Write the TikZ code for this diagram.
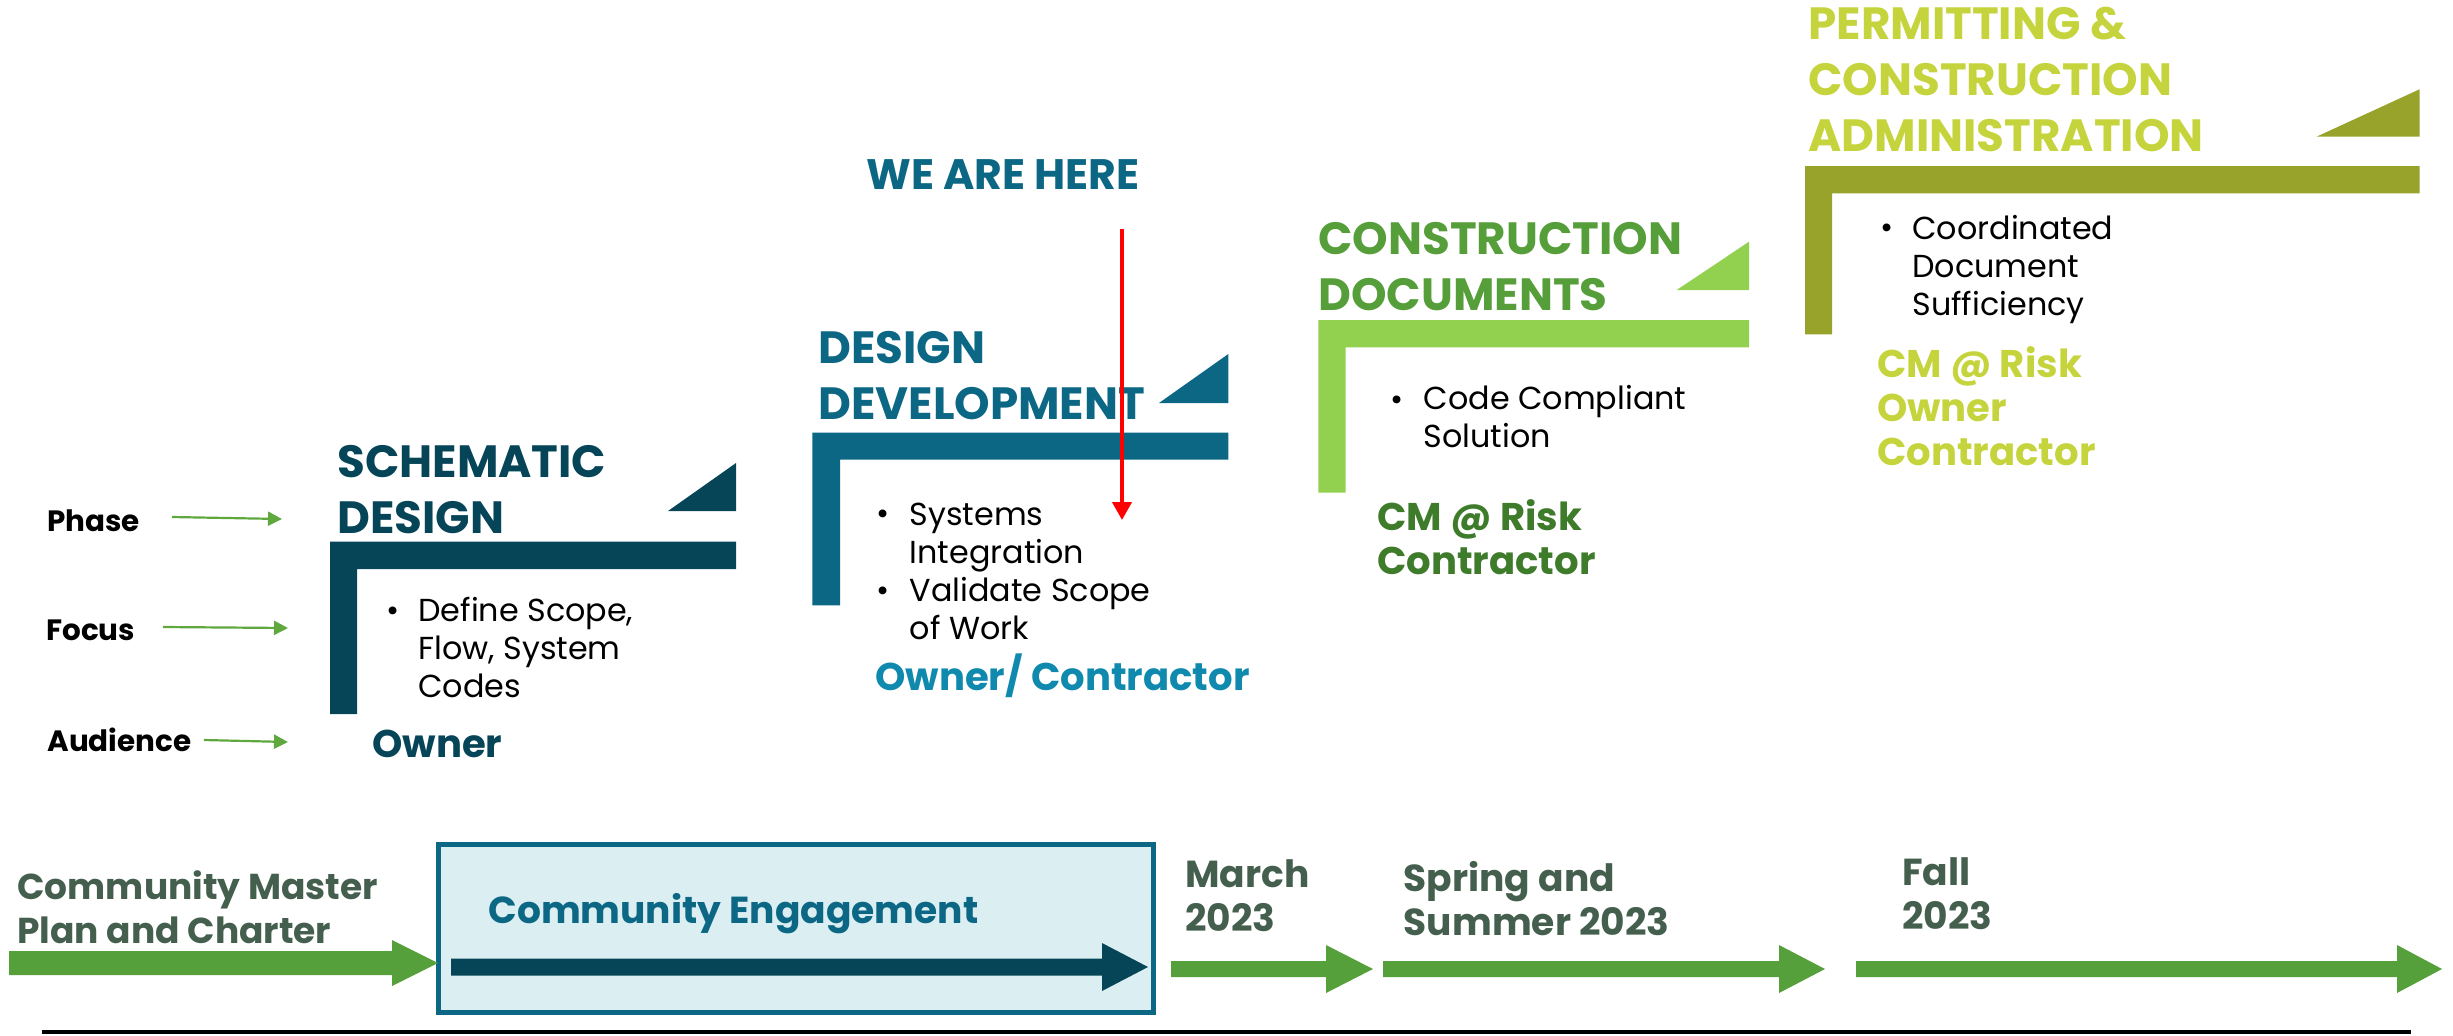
\documentclass[tikz,border=0pt]{standalone}
\usepackage{fontspec}
\setmainfont{Poppins}
\usetikzlibrary{arrows.meta}

\definecolor{sdTeal}{HTML}{064457}
\definecolor{ddTeal}{HTML}{0B6784}
\definecolor{ddLight}{HTML}{0F89AD}
\definecolor{cdGreen}{HTML}{559E3A}
\definecolor{cdBar}{HTML}{92D050}
\definecolor{cdDark}{HTML}{3E7B2A}
\definecolor{pcYellow}{HTML}{C5D43D}
\definecolor{pcOlive}{HTML}{98A32B}
\definecolor{tlGray}{HTML}{455F4E}
\definecolor{tlGreen}{HTML}{55A03A}
\definecolor{ceFill}{HTML}{DBEFF3}
\definecolor{ptrGreen}{HTML}{5EA83E}

% multi-line nodes: base = baseline of the last line
\tikzset{
  phasettl/.style={anchor=base west, inner sep=0pt, align=left, font=\fontsize{22.6}{28}\selectfont\bfseries},
  focustxt/.style={anchor=base west, inner sep=0pt, align=left, font=\fontsize{15.9}{18.9}\selectfont},
  audtxt/.style={anchor=base west, inner sep=0pt, align=left, font=\fontsize{19.3}{22}\selectfont\bfseries},
  rowlbl/.style={anchor=base west, inner sep=0pt, font=\fontsize{14.7}{16}\selectfont\bfseries},
  datelbl/.style={anchor=base west, inner sep=0pt, align=left, text=tlGray, font=\fontsize{18.8}{22}\selectfont\bfseries},
  rowptr/.style={draw=ptrGreen, line width=1.1pt, -{Triangle[length=7pt,width=7pt]}},
}

\begin{document}
\begin{tikzpicture}[x=0.5pt,y=-0.5pt]
\useasboundingbox (0,0) rectangle (2453,1035);
%row labels on the left
\node[rowlbl] (phase) at (47,531.7) {Phase};
\node[rowlbl] (focus) at (46,640) {Focus};
\node[rowlbl] (audience) at (47,751.7) {Audience};
\coordinate (phaseA) at (172,517);   \coordinate (phaseB) at (282,519);
\coordinate (focusA) at (163,627);   \coordinate (focusB) at (288,628);
\coordinate (audA) at (204,740);     \coordinate (audB) at (288,742);
\draw[rowptr] (phaseA) -- (phaseB);
\draw[rowptr] (focusA) -- (focusB);
\draw[rowptr] (audA) -- (audB);

%Schematic design
\fill[sdTeal] (330,541.7) -- (736,541.7) -- (736,569) -- (357,569) -- (357,714) -- (330,714) -- cycle;
\fill[sdTeal] (668,511) -- (736,463) -- (736,511) -- cycle;
% Text Node
\node[phasettl, text=sdTeal] (sdTitle) at (337,533.3) {SCHEMATIC\\DESIGN};
\node[focustxt] (sdDot) at (386,621.7) {\textbullet};
\node[focustxt] (sdFocus) at (418,697) {Define Scope,\\Flow, System\\Codes};
\node[audtxt, text=sdTeal] (sdAud) at (372,757) {Owner};

%Design development
\fill[ddTeal] (812.3,432.6) -- (1228.3,432.6) -- (1228.3,459.6) -- (840,459.6) -- (840,605.4) -- (812.3,605.4) -- cycle;
\fill[ddTeal] (1159,403) -- (1228.3,354) -- (1228.3,403) -- cycle;
% Text Node
\node[phasettl, text=ddTeal] (ddTitle) at (818,419) {DESIGN\\DEVELOPMENT};
\node[phasettl, text=ddTeal, font=\fontsize{21.3}{24}\selectfont\bfseries] (here) at (866,189.5) {WE ARE HERE};
\node[focustxt] (ddDotA) at (876,524.4) {\textbullet};
\node[focustxt] (ddFocusA) at (909.3,563) {Systems\\Integration};
\node[focustxt] (ddDotB) at (876,601) {\textbullet};
\node[focustxt] (ddFocusB) at (909.3,639) {Validate Scope\\of Work};
\node[audtxt, text=ddLight] (ddAud) at (875,690.5) {Owner/ Contractor};
%red marker
\coordinate (hereTop) at (1122,229);
\coordinate (hereTip) at (1122,520);
\draw[red, line width=2pt, -{Triangle[length=9pt,width=9.5pt]}] (hereTop) -- (hereTip);

%Construction documents
\fill[cdBar] (1318.3,320) -- (1749,320) -- (1749,347.3) -- (1345.7,347.3) -- (1345.7,492.7) -- (1318.3,492.7) -- cycle;
\fill[cdBar] (1676.7,290) -- (1749,241.7) -- (1749,290) -- cycle;
% Text Node
\node[phasettl, text=cdGreen] (cdTitle) at (1318,310) {CONSTRUCTION\\DOCUMENTS};
\node[focustxt] (cdDot) at (1390,410) {\textbullet};
\node[focustxt] (cdFocus) at (1423.3,447.7) {Code Compliant\\Solution};
\node[audtxt, text=cdDark] (cdAud) at (1376.7,574.3) {CM @ Risk\\Contractor};

%Permitting and construction administration
\fill[pcOlive] (1805,166) -- (2419.5,166) -- (2419.5,193.3) -- (1832,193.3) -- (1832,334.3) -- (1805,334.3) -- cycle;
\fill[pcOlive] (2316.5,136.7) -- (2419.5,89.3) -- (2419.5,136.7) -- cycle;
% Text Node
\node[phasettl, text=pcYellow] (pcTitle) at (1808,151.7) {PERMITTING \&\\CONSTRUCTION\\ADMINISTRATION};
\node[focustxt] (pcDot) at (1880,238.3) {\textbullet};
\node[focustxt] (pcFocus) at (1912,315) {Coordinated\\Document\\Sufficiency};
\node[audtxt, text=pcYellow] (pcAud) at (1876.6,465) {CM @ Risk\\Owner\\Contractor};

%timeline
\draw[draw=ddTeal, fill=ceFill, line width=2.5pt] (438.5,844.5) rectangle (1153.5,1012.5);
\node[datelbl, text=ddTeal, font=\fontsize{18.8}{20}\selectfont\bfseries] (engage) at (488,923.3) {Community Engagement};
\fill[sdTeal] (451,958.5) -- (1102,958.5) -- (1102,943) -- (1148,967) -- (1102,991) -- (1102,975.5) -- (451,975.5) -- cycle;
\fill[tlGreen] (9,951) -- (392,951) -- (392,940) -- (438,963) -- (392,986) -- (392,975) -- (9,975) -- cycle;
\fill[tlGreen] (1171,961) -- (1326,961) -- (1326,945) -- (1373,969) -- (1326,993) -- (1326,977) -- (1171,977) -- cycle;
\fill[tlGreen] (1383,961) -- (1779,961) -- (1779,945) -- (1825,969) -- (1779,993) -- (1779,977) -- (1383,977) -- cycle;
\fill[tlGreen] (1856,961) -- (2397,961) -- (2397,945) -- (2442,969) -- (2397,993) -- (2397,977) -- (1856,977) -- cycle;
% Text Node
\node[datelbl, font=\fontsize{18}{22}\selectfont\bfseries] (master) at (17,943.3) {Community Master\\Plan and Charter};
\node[datelbl] (march) at (1185,931.7) {March\\2023};
\node[datelbl] (spring) at (1403.4,935) {Spring and\\Summer 2023};
\node[datelbl] (fall) at (1902,929.3) {Fall\\2023};
%base line
\draw[black, line width=2pt] (42,1032) -- (2411,1032);
\end{tikzpicture}
\end{document}
